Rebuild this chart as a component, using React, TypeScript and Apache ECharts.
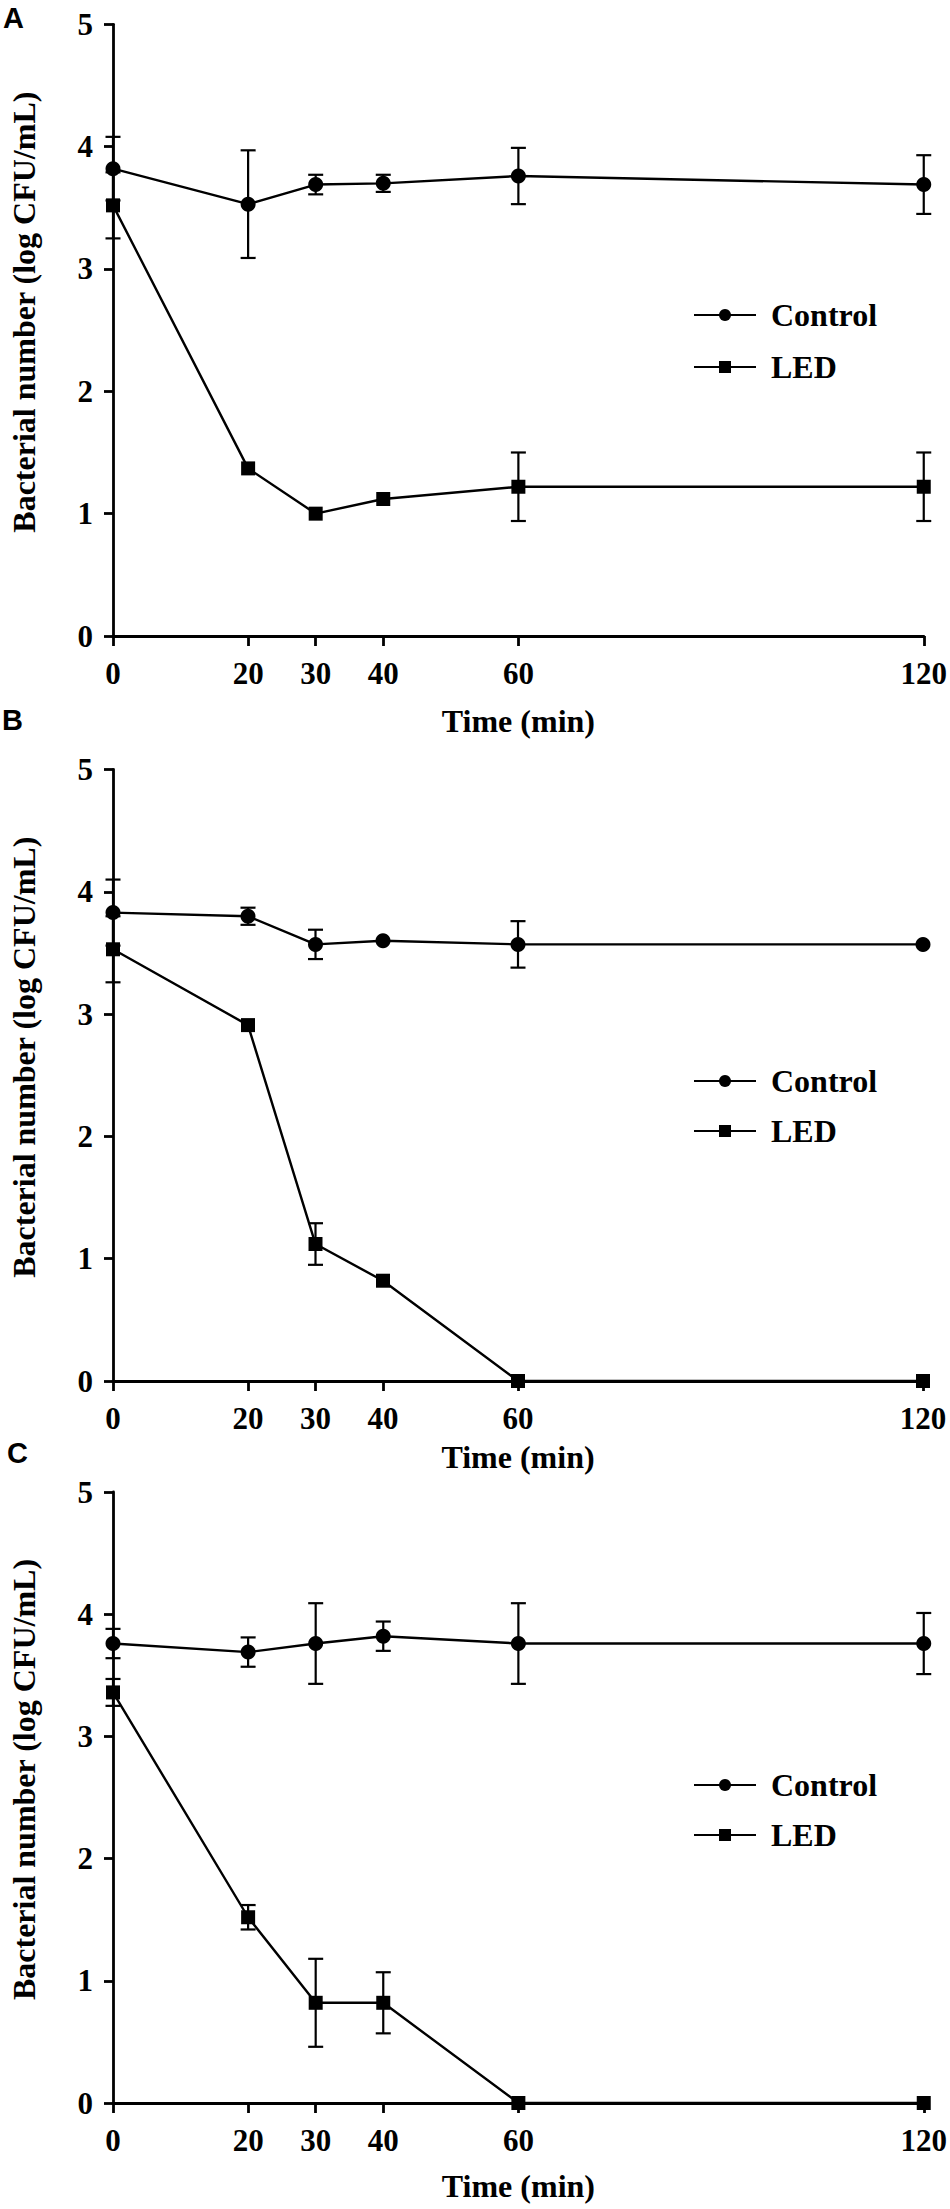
import React, { useEffect, useRef } from "react";
import * as echarts from "echarts";

// ---- data ----
const times = [0, 20, 30, 40, 60, 120];
const xTickValues = [0, 20, 30, 40, 60, 120];
const seriesNames = ["Control", "LED"];
const panelLetters = ["A", "B", "C"];
const xAxisTitle = "Time (min)";
const yAxisTitle = "Bacterial number (log CFU/mL)";

const controlA = [3.82, 3.53, 3.69, 3.7, 3.76, 3.69];
const controlAErr = [0.26, 0.44, 0.08, 0.07, 0.23, 0.24];
const ledA = [3.52, 1.37, 1.0, 1.12, 1.22, 1.22];
const ledAErr = [0.27, 0, 0, 0, 0.28, 0.28];

const controlB = [3.83, 3.8, 3.57, 3.6, 3.57, 3.57];
const controlBErr = [0.27, 0.07, 0.12, 0, 0.19, 0];
const ledB = [3.53, 2.91, 1.12, 0.82, 0, 0];
const ledBErr = [0.27, 0, 0.17, 0, 0, 0];

const controlC = [3.76, 3.69, 3.76, 3.82, 3.76, 3.76];
const controlCErr = [0.12, 0.12, 0.33, 0.12, 0.33, 0.25];
const ledC = [3.36, 1.52, 0.82, 0.82, 0, 0];
const ledCErr = [0.11, 0.1, 0.36, 0.25, 0, 0];

const panelData = [
  { control: controlA, controlErr: controlAErr, led: ledA, ledErr: ledAErr },
  { control: controlB, controlErr: controlBErr, led: ledB, ledErr: ledBErr },
  { control: controlC, controlErr: controlCErr, led: ledC, ledErr: ledCErr },
];

// ---- layout ----
const panelLayout = [
  { left: 104, top: 24.3, width: 820, height: 611.7, xNameGap: 69, legendTop: 294, legendGap: 20, letterX: 3, letterY: 18 },
  { left: 105, top: 769.5, width: 818, height: 611.5, xNameGap: 60, legendTop: 1060, legendGap: 18, letterX: 2, letterY: 720 },
  { left: 106, top: 1492, width: 819, height: 611, xNameGap: 67, legendTop: 1764, legendGap: 18, letterX: 7, letterY: 1453 },
];

const SERIF = "'Liberation Serif', 'Times New Roman', serif";
const INK = "#000";

function errData(vals: number[], errs: number[]) {
  const out: number[][] = [];
  vals.forEach((v, j) => {
    if (errs[j] > 0) out.push([times[j], v - errs[j], v + errs[j]]);
  });
  return out;
}

const renderErr = (params: any, api: any) => {
  const x = api.value(0);
  const lo = api.coord([x, api.value(1)]);
  const hi = api.coord([x, api.value(2)]);
  const hw = 7.5;
  const style = { stroke: INK, lineWidth: 2.2 };
  return {
    type: "group",
    children: [
      { type: "line", shape: { x1: lo[0], y1: lo[1], x2: hi[0], y2: hi[1] }, style },
      { type: "line", shape: { x1: lo[0] - hw, y1: lo[1], x2: lo[0] + hw, y2: lo[1] }, style },
      { type: "line", shape: { x1: hi[0] - hw, y1: hi[1], x2: hi[0] + hw, y2: hi[1] }, style },
    ],
  };
};

export default function App() {
  const ref = useRef<HTMLDivElement>(null);
  useEffect(() => {
    if (!ref.current) return;
    const chart = echarts.init(ref.current, null, { renderer: "svg" });

    const grids: any[] = [];
    const xAxes: any[] = [];
    const yAxes: any[] = [];
    const legends: any[] = [];
    const series: any[] = [];
    const graphics: any[] = [];

    panelLayout.forEach((L, i) => {
      const D = panelData[i];
      grids.push({ left: L.left, top: L.top, width: L.width, height: L.height, containLabel: false });
      xAxes.push({
        type: "value",
        gridIndex: i,
        min: 0,
        max: 120,
        interval: 10,
        name: xAxisTitle,
        nameLocation: "middle",
        nameGap: L.xNameGap,
        nameTextStyle: { fontFamily: SERIF, fontWeight: "bold", fontSize: 32, color: INK },
        axisLine: { show: true, onZero: false, lineStyle: { color: INK, width: 2.8 } },
        axisTick: { show: true, length: 10, customValues: xTickValues, lineStyle: { color: INK, width: 2.8 } },
        axisLabel: {
          customValues: xTickValues,
          fontFamily: SERIF,
          fontWeight: "bold",
          fontSize: 31,
          color: INK,
          margin: 22,
        },
        splitLine: { show: false },
      });
      yAxes.push({
        type: "value",
        gridIndex: i,
        min: 0,
        max: 5,
        interval: 1,
        name: yAxisTitle,
        nameLocation: "middle",
        nameGap: 73,
        nameTextStyle: { fontFamily: SERIF, fontWeight: "bold", fontSize: 32, color: INK, padding: [0, 0, 0, 36] },
        axisLine: { show: true, onZero: false, lineStyle: { color: INK, width: 2.8 } },
        axisTick: { show: true, length: 9, lineStyle: { color: INK, width: 2.8 } },
        axisLabel: { fontFamily: SERIF, fontWeight: "bold", fontSize: 31, color: INK, margin: 20 },
        splitLine: { show: false },
      });
      legends.push({
        data: seriesNames,
        orient: "vertical",
        left: 688,
        top: L.legendTop,
        itemWidth: 62,
        itemHeight: 15,
        itemGap: L.legendGap,
        textStyle: { fontFamily: SERIF, fontWeight: "bold", fontSize: 32, color: INK, padding: [0, 0, 0, 10] },
        selectedMode: false,
      });
      series.push({
        type: "custom",
        name: "Control SD",
        xAxisIndex: i,
        yAxisIndex: i,
        data: errData(D.control, D.controlErr),
        renderItem: renderErr,
        encode: { x: 0, y: [1, 2] },
        clip: false,
        z: 2,
      });
      series.push({
        type: "custom",
        name: "LED SD",
        xAxisIndex: i,
        yAxisIndex: i,
        data: errData(D.led, D.ledErr),
        renderItem: renderErr,
        encode: { x: 0, y: [1, 2] },
        clip: false,
        z: 2,
      });
      series.push({
        type: "line",
        name: seriesNames[0],
        xAxisIndex: i,
        yAxisIndex: i,
        data: times.map((t, j) => [t, D.control[j]]),
        symbol: "circle",
        symbolSize: 15,
        showAllSymbol: true,
        lineStyle: { color: INK, width: 2.4 },
        itemStyle: { color: INK },
        z: 3,
      });
      series.push({
        type: "line",
        name: seriesNames[1],
        xAxisIndex: i,
        yAxisIndex: i,
        data: times.map((t, j) => [t, D.led[j]]),
        symbol: "rect",
        symbolSize: 14,
        showAllSymbol: true,
        lineStyle: { color: INK, width: 2.4 },
        itemStyle: { color: INK },
        z: 3,
      });
      graphics.push({
        type: "text",
        left: L.letterX,
        top: L.letterY - 15,
        style: {
          text: panelLetters[i],
          font: "bold 29px 'Liberation Sans', Arial, sans-serif",
          fill: INK,
        },
      });
    });

    chart.setOption({
      animation: false,
      backgroundColor: "#fff",
      grid: grids,
      xAxis: xAxes,
      yAxis: yAxes,
      legend: legends,
      tooltip: { show: false },
      graphic: graphics,
      series,
    });
    return () => chart.dispose();
  }, []);
  return (
    <div
      ref={ref}
      style={{ position: "absolute", left: 0, top: 0, width: 950, height: 2209, background: "#fff" }}
    />
  );
}
